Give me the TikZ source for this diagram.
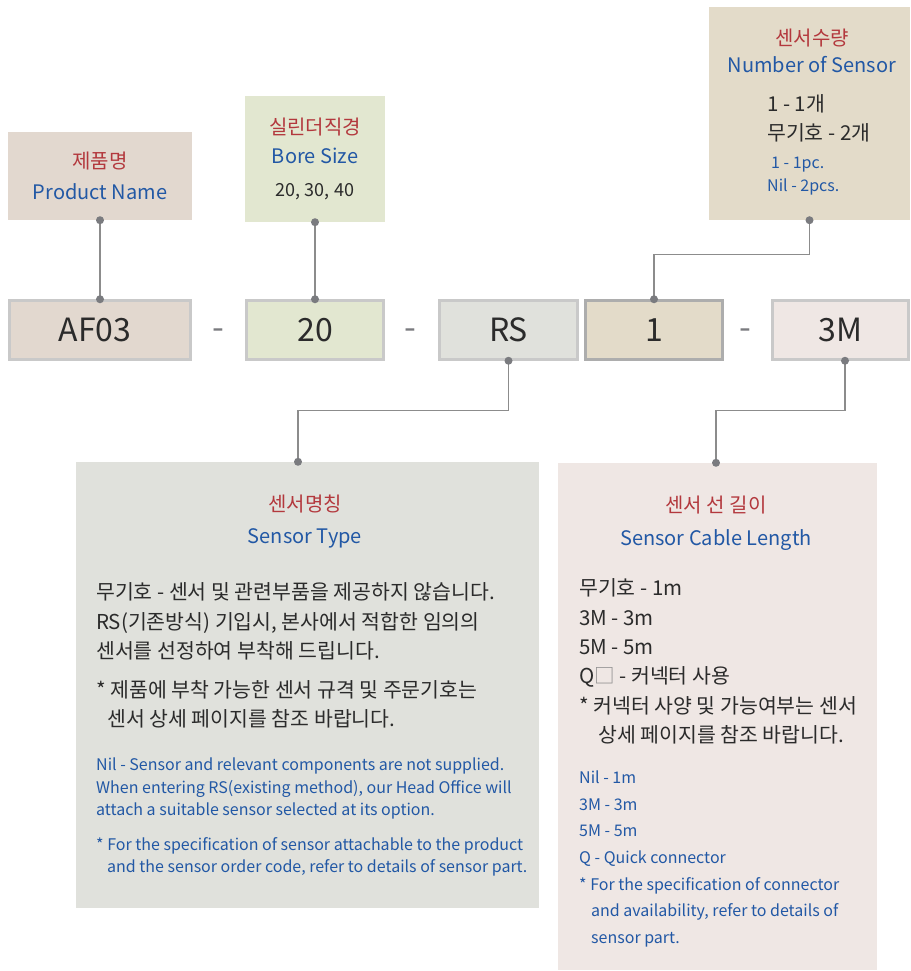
\documentclass[tikz,border=0pt]{standalone}
\usepackage{fontspec}
\setmainfont{Noto Sans CJK KR}
\usetikzlibrary{positioning}

\definecolor{prodfill}{HTML}{E2D8CF}
\definecolor{borefill}{HTML}{E2E7D0}
\definecolor{typefill}{HTML}{E0E1DC}
\definecolor{numfill}{HTML}{E3DBC9}
\definecolor{cablefill}{HTML}{EFE7E4}
\definecolor{codeline}{HTML}{C9C9C9}
\definecolor{oneline}{HTML}{ADADAD}
\definecolor{linkgray}{HTML}{8C8C8C}
\definecolor{dotgray}{HTML}{7A7B7F}
\definecolor{titlered}{HTML}{B3383D}
\definecolor{engblue}{HTML}{2258A5}
\definecolor{darktext}{HTML}{2B2B2B}

\newcommand{\headko}[1]{{\color{titlered}#1}}
\newcommand{\headen}[1]{{\color{engblue}#1}}

\tikzset{
  infobox/.style={rectangle, inner sep=0pt, align=center},
  codebox/.style={rectangle, draw=codeline, line width=2.5pt, minimum height=59pt,
    inner sep=0pt, text=darktext, font=\fontsize{32}{32}\selectfont},
  headline/.style={align=center, inner sep=0pt, font=\fontsize{20}{31}\selectfont},
  kobody/.style={align=left, inner sep=0pt, text=darktext, anchor=west},
  enbody/.style={align=left, inner sep=0pt, text=engblue, anchor=west},
  sep/.style={inner sep=0pt, text=dotgray, font=\fontsize{34}{34}\selectfont},
  link/.style={draw=linkgray, line width=1.3pt}
}

\begin{document}
\begin{tikzpicture}[x=1pt,y=-1pt]
\useasboundingbox (0,0) rectangle (910,971);

% info boxes above the code
\node[infobox, fill=prodfill, minimum width=184pt, minimum height=88pt,
  font=\fontsize{20}{31}\selectfont] (prod) at (100,176)
  {\headko{제품명}\\\headen{Product Name}};
\node[infobox, fill=borefill, minimum width=140pt, minimum height=126pt,
  font=\fontsize{20}{29}\selectfont] (bore) at (315,159)
  {\headko{실린더직경}\\\headen{Bore Size}\\[4pt]{\fontsize{18}{18}\selectfont\color{darktext}20, 30, 40}};
\node[infobox, fill=numfill, minimum width=201pt, minimum height=213pt] (num) at (809.5,113.5) {};
\node[headline, font=\fontsize{20}{27}\selectfont] (numhead) at (812,50.5)
  {\headko{센서수량}\\\headen{Number of Sensor}};
\node[kobody, font=\fontsize{20.5}{29}\selectfont] (numko) at (767,118.5)
  {1 - 1개\\무기호 - 2개};
\node[enbody, font=\fontsize{16}{23}\selectfont] (numen) at (767,176.5)
  {\hspace*{4pt}1 - 1pc.\\Nil - 2pcs.};

% ordering code
\node[codebox, fill=prodfill, minimum width=181pt] (af) at (100,330) {AF03\hspace*{10pt}};
\node[codebox, fill=borefill, minimum width=137pt] (bs) at (315,330) {20};
\node[codebox, fill=typefill, minimum width=138pt] (rs) at (508.5,330) {RS};
\node[codebox, fill=numfill, draw=oneline, minimum width=137pt] (one) at (654,330) {1};
\node[codebox, fill=cablefill, minimum width=136pt] (cm) at (840.5,330) {3M};
\node[sep] (d1) at (218,334) {-};
\node[sep] (d2) at (410,334) {-};
\node[sep] (d3) at (745,334) {-};

% info boxes below the code
\node[infobox, fill=typefill, minimum width=463pt, minimum height=446pt] (type) at (307.5,685) {};
\node[headline, font=\fontsize{20}{32}\selectfont] (typehead) at (305,521.5)
  {\headko{센서명칭}\\\headen{Sensor Type}};
\node[kobody, font=\fontsize{20.5}{29.5}\selectfont] (typeko) at (96,621.5)
  {무기호 - 센서 및 관련부품을 제공하지 않습니다.\\
   RS(기존방식) 기입시, 본사에서 적합한 임의의\\
   센서를 선정하여 부착해 드립니다.};
\node[kobody, font=\fontsize{20.5}{29.5}\selectfont] (typenote) at (96,704.5)
  {* 제품에 부착 가능한 센서 규격 및 주문기호는\\
   \hspace*{11pt}센서 상세 페이지를 참조 바랍니다.};
\node[enbody, font=\fontsize{16}{22.5}\selectfont] (typeen) at (96,788.5)
  {Nil - Sensor and relevant components are not supplied.\\
   When entering RS(existing method), our Head Office will\\
   attach a suitable sensor selected at its option.};
\node[enbody, font=\fontsize{16}{22.5}\selectfont] (typeennote) at (96,857)
  {* For the specification of sensor attachable to the product\\
   \hspace*{11pt}and the sensor order code, refer to details of sensor part.};

\node[infobox, fill=cablefill, minimum width=319pt, minimum height=507pt] (cable) at (717.5,716.5) {};
\node[headline, font=\fontsize{20}{33}\selectfont] (cablehead) at (716,523)
  {\headko{센서 선 길이}\\\headen{Sensor Cable Length}};
\node[kobody, font=\fontsize{20.5}{29.4}\selectfont] (cableko) at (579,661.5)
  {무기호 - 1m\\3M - 3m\\5M - 5m\\Q{\color{linkgray}□} - 커넥터 사용\\
   * 커넥터 사양 및 가능여부는 센서\\
   \hspace*{19pt}상세 페이지를 참조 바랍니다.};
\node[enbody, font=\fontsize{16}{26.7}\selectfont] (cableen) at (579,859)
  {Nil - 1m\\3M - 3m\\5M - 5m\\Q - Quick connector\\
   * For the specification of connector\\
   \hspace*{12pt}and availability, refer to details of\\
   \hspace*{12pt}sensor part.};

% connectors
\draw[link] (prod.south) -- (af.north);
\draw[link] (bore.south) -- (bs.north);
\draw[link] (num.south) -- ++(0,34) -| (one.north);
\draw[link] (rs.south) -- ++(0,50) -| ([xshift=-9.5pt]type.north);
\draw[link] ([xshift=4.5pt]cm.south) -- ++(0,50) -| ([xshift=-1.5pt]cable.north);
\foreach \p in {prod.south, af.north, bore.south, bs.north, num.south, one.north, rs.south}
  \fill[dotgray] (\p) circle (4pt);
\fill[dotgray] ([xshift=-9.5pt]type.north) circle (4pt);
\fill[dotgray] ([xshift=4.5pt]cm.south) circle (4pt);
\fill[dotgray] ([xshift=-1.5pt]cable.north) circle (4pt);
\end{tikzpicture}
\end{document}
